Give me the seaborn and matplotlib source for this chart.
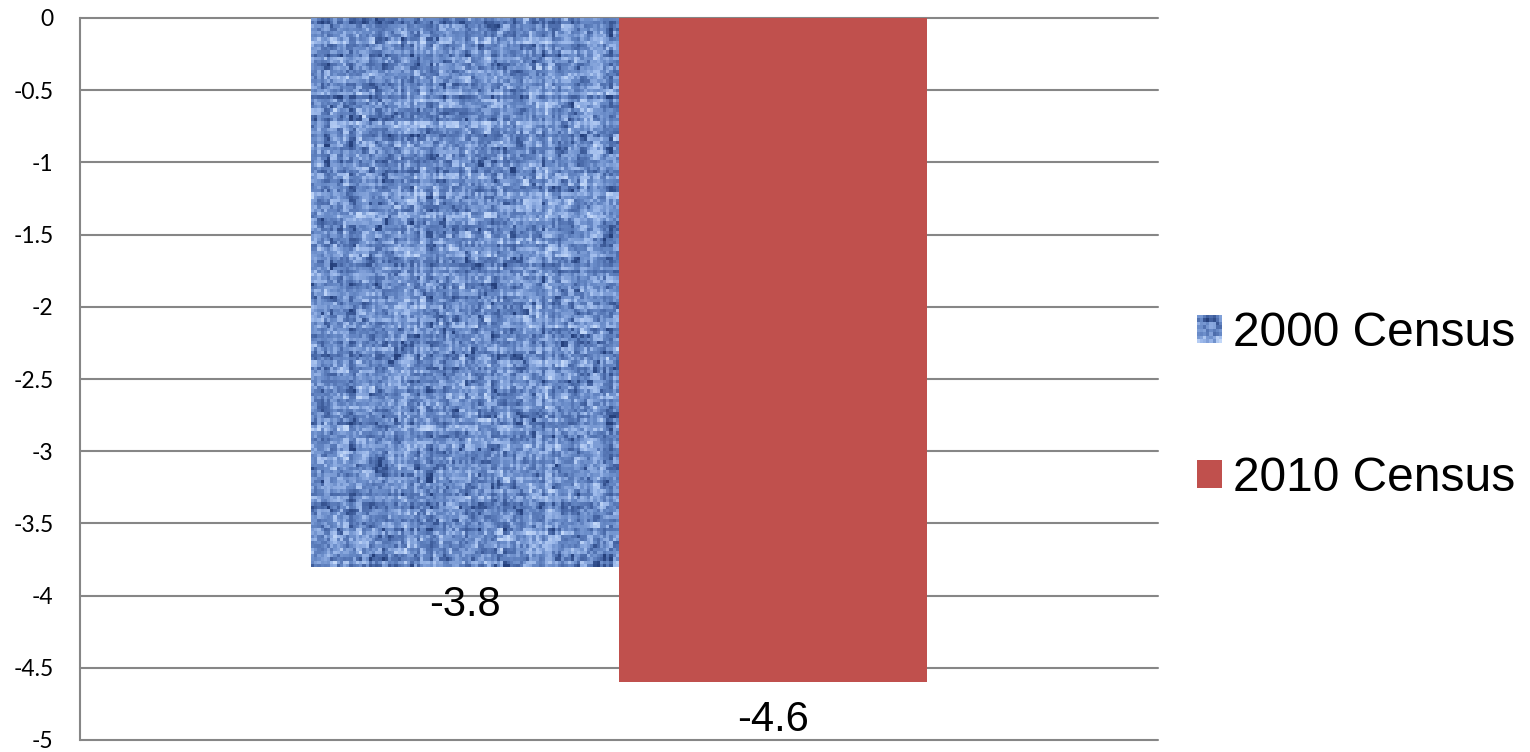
import numpy as np
import pandas as pd
import matplotlib
matplotlib.use("Agg")
import matplotlib.pyplot as plt
import seaborn as sns
from matplotlib.colors import LinearSegmentedColormap
from matplotlib.legend_handler import HandlerBase
from matplotlib.image import BboxImage
from matplotlib.transforms import Bbox, TransformedBbox
from matplotlib.patches import Patch

# Data
categories = ["Change"]
series = ["2000 Census", "2010 Census"]
values = [-3.8, -4.6]
colors = ["#6283c2", "#c0504d"]
yticks = [0, -0.5, -1, -1.5, -2, -2.5, -3, -3.5, -4, -4.5, -5]
ytick_labels = ["0", "-0.5", "-1", "-1.5", "-2", "-2.5", "-3", "-3.5", "-4", "-4.5", "-5"]

df = pd.DataFrame({
    "category": categories * len(series),
    "series": series,
    "value": values,
})

sns.set_theme(style="white")
plt.rcParams["axes.unicode_minus"] = False
plt.rcParams["text.color"] = "#000000"

# Woven blue fabric texture for the 2000 bar
rng = np.random.default_rng(7)
H, W = 170, 96
base = rng.normal(0, 1, (H, W))
rows = rng.normal(0, 1, (H, 1)) * 0.5
cols = rng.normal(0, 1, (1, W)) * 0.5
weave = np.kron(rng.normal(0, 1, (H // 2, W // 2)), np.ones((2, 2)))
tex = 0.8 * base + rows + cols + 1.0 * weave
tex = np.clip((tex - tex.mean()) / (2.6 * tex.std()), -1, 1) * 0.5 + 0.5
fabric = LinearSegmentedColormap.from_list(
    "fabric", ["#25407c", "#4a6aa9", "#6a8cc9", "#9bb8ea", "#c2d7f8"])


class TextureHandler(HandlerBase):
    def create_artists(self, legend, orig_handle, xdescent, ydescent,
                       width, height, fontsize, trans):
        bb = TransformedBbox(Bbox.from_bounds(-xdescent, -ydescent, width, height), trans)
        img = BboxImage(bb, cmap=fabric, interpolation="nearest")
        img.set_data(tex[:8, :8])
        return [img]


fig = plt.figure(figsize=(15.3, 7.52), dpi=100)
ax = fig.add_axes([80 / 1530, 1 - 740 / 752, (1158 - 80) / 1530, (740 - 18) / 752])

sns.barplot(data=df, x="category", y="value", hue="series", palette=colors,
            width=0.571, ax=ax, legend=False, saturation=1, errorbar=None,
            linewidth=0, edgecolor="none")

ax.set_xlim(-0.5, 0.5)
ax.set_ylim(-5, 0)
ax.set_yticks(yticks)
ax.set_yticklabels(ytick_labels, fontfamily="Lato", fontsize=16.5, color="#000000")
ax.set_xticks([])
ax.set_xlabel("")
ax.set_ylabel("")

for s in ["top", "right", "bottom"]:
    ax.spines[s].set_visible(False)
ax.spines["left"].set_color("#868686")
ax.spines["left"].set_linewidth(1.5)
ax.tick_params(axis="y", direction="out", length=6, width=1.1, color="#868686", pad=13)

ax.yaxis.grid(True, color="#868686", linewidth=1.5)
ax.set_axisbelow(True)
for gl in ax.get_ygridlines():
    gl.set_clip_on(False)

# Texture fill clipped to the first bar
bars = ax.patches
p0 = bars[0]
x0, y0 = p0.get_x(), p0.get_y()
w0, h0 = p0.get_width(), p0.get_height()
im = ax.imshow(tex, cmap=fabric, aspect="auto", interpolation="nearest",
               extent=(x0, x0 + w0, y0 + h0, y0), zorder=p0.get_zorder() + 0.1)
im.set_clip_path(p0)
ax.set_xlim(-0.5, 0.5)
ax.set_ylim(-5, 0)

# Value labels under each bar
for p, v in zip(bars, values):
    ax.annotate(f"{v}", xy=(p.get_x() + p.get_width() / 2, v),
                xytext=(0, -27.4), textcoords="offset points",
                ha="center", va="center", fontsize=30,
                fontfamily="Liberation Sans", color="#000000", annotation_clip=False)

handles = [Patch(facecolor=colors[0]), Patch(facecolor=colors[1], edgecolor="none")]
leg = fig.legend(handles, series, loc="center left",
                 bbox_to_anchor=(1197 / 1530, 1 - 406 / 752),
                 frameon=False, borderpad=0, borderaxespad=0,
                 prop={"family": "Liberation Sans", "size": 34.5},
                 handlelength=0.52, handleheight=0.52, handletextpad=0.23,
                 labelspacing=2.08, labelcolor="#000000",
                 handler_map={handles[0]: TextureHandler()})

fig.savefig("out.png", dpi=100)
